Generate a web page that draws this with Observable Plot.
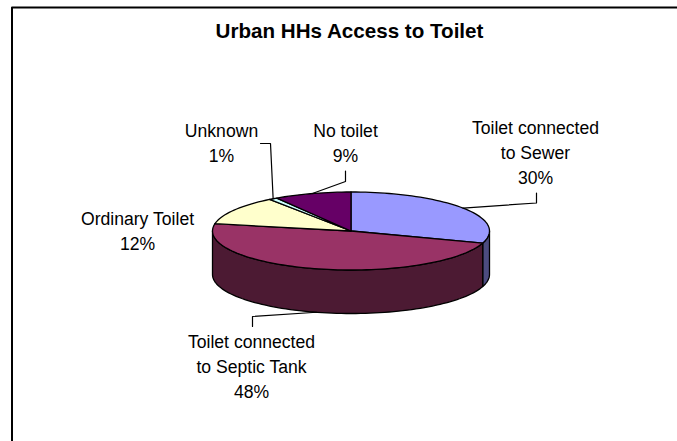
<!DOCTYPE html>
<html>
<head>
<meta charset="utf-8">
<script src="https://cdn.jsdelivr.net/npm/d3@7"></script>
<script src="https://cdn.jsdelivr.net/npm/@observablehq/plot@0.6"></script>
<style>
  html, body { margin: 0; padding: 0; background: #fff; }
  svg { display: block; }
</style>
</head>
<body>
<div id="chart"></div>
<script>
// Shares of urban households by toilet type, clockwise from twelve o'clock.
const categories = ["Toilet connected to Sewer", "Toilet connected to Septic Tank", "Ordinary Toilet", "Unknown", "No toilet"];
const shares = [30, 48, 12, 1, 9];
const labelLines = [
  ["Toilet connected", "to Sewer", "30%"],
  ["Toilet connected", "to Septic Tank", "48%"],
  ["Ordinary Toilet", "12%"],
  ["Unknown", "1%"],
  ["No toilet", "9%"]
];
const topColors = ["#9999ff", "#993366", "#ffffcc", "#ccffff", "#660066"];
const sideColors = ["#4c4c80", "#4c1a33", "#808066", "#668080", "#330033"];

// Layout of the tilted disc, in chart pixels.
const W = 677, H = 441;
const cx = 350.5, cy = 230.5, rx = 138.5, ry = 39, depth = 43.5;
const rim = (deg, drop = 0) => {
  const a = deg * Math.PI / 180;
  return [cx + rx * Math.sin(a), cy - ry * Math.cos(a) + drop];
};
const arc = (from, to, drop = 0) => {
  const n = Math.max(2, Math.ceil(Math.abs(to - from) / 2));
  return d3.range(n + 1).map(i => rim(from + (to - from) * i / n, drop));
};

// Cumulative angles for each slice.
const total = d3.sum(shares);
let running = 0;
const slices = categories.map((name, i) => {
  const start = running / total * 360;
  running += shares[i];
  return {name, i, start, end: running / total * 360};
});
const mid = s => (s.start + s.end) / 2;

const toRows = (name, pts) => pts.map(([x, y]) => ({name, x, y}));
const topRows = slices.flatMap(s =>
  toRows(s.name, [[cx, cy], ...arc(s.start, s.end), [cx, cy]]));

// Only the front half of the rim is visible, between 90° and 270°.
const sideRows = slices.flatMap(s => {
  const from = Math.max(s.start, 90), to = Math.min(s.end, 270);
  if (from >= to) return [];
  const lip = arc(from, to), base = arc(to, from, depth);
  return [{s, rows: toRows(s.name, [...lip, ...base, lip[0]])}];
});

// Leader lines: each starts on the rim at its slice's middle angle.
const leaderBends = [
  {drop: 0, via: [[536, 202.5], [536, 192.5]]},
  {drop: depth, via: [[252, 316], [252, 326]]},
  null,
  {drop: 0, via: [[270, 143], [260, 143]]},
  {drop: 0, via: [[345, 181], [345, 170.5]]}
];
const leaderRows = slices.flatMap(s => {
  const b = leaderBends[s.i];
  return b ? toRows(s.name, [rim(mid(s), b.drop), ...b.via]) : [];
});

// Label centres and the baseline of each label's first line.
const labelAt = [[535, 133], [251, 347], [137, 224], [221, 136], [345, 136]];
const lineStep = 25;
const labelRows = slices.flatMap(s => labelLines[s.i].map((text, k) => ({
  text, x: labelAt[s.i][0], y: labelAt[s.i][1] + k * lineStep
})));

const chart = Plot.plot({
  width: W, height: H,
  margin: 0,
  x: {domain: [0, W], range: [0, W], axis: null},
  y: {domain: [0, H], range: [0, H], axis: null},
  color: {domain: categories, range: topColors},
  style: {fontFamily: "'Liberation Sans', Arial, sans-serif", background: "#fff", color: "#000"},
  marks: [
    // Chart border: only the top and left edges fall inside the view.
    Plot.line([[11.5, 446], [11.5, 7], [682, 7]], {stroke: "#000", strokeWidth: 2}),
    ...sideRows.map(({s, rows}) => Plot.line(rows, {
      x: "x", y: "y", fill: sideColors[s.i], stroke: "#000", strokeWidth: 1.3, strokeLinejoin: "round"
    })),
    Plot.line(topRows, {
      x: "x", y: "y", z: "name", fill: "name", stroke: "#000", strokeWidth: 1.3, strokeLinejoin: "round"
    }),
    Plot.line(leaderRows, {x: "x", y: "y", z: "name", stroke: "#000", strokeWidth: 1.2}),
    Plot.text(labelRows, {
      x: "x", y: "y", text: "text", fontSize: 17.6, fill: "#000", lineAnchor: "bottom"
    }),
    Plot.text(["Urban HHs Access to Toilet"], {
      x: () => 349, y: () => 37, text: d => d, fontSize: 20.6, fontWeight: "bold", fill: "#000", lineAnchor: "bottom"
    })
  ]
});
document.getElementById("chart").append(chart);
</script>
</body>
</html>
